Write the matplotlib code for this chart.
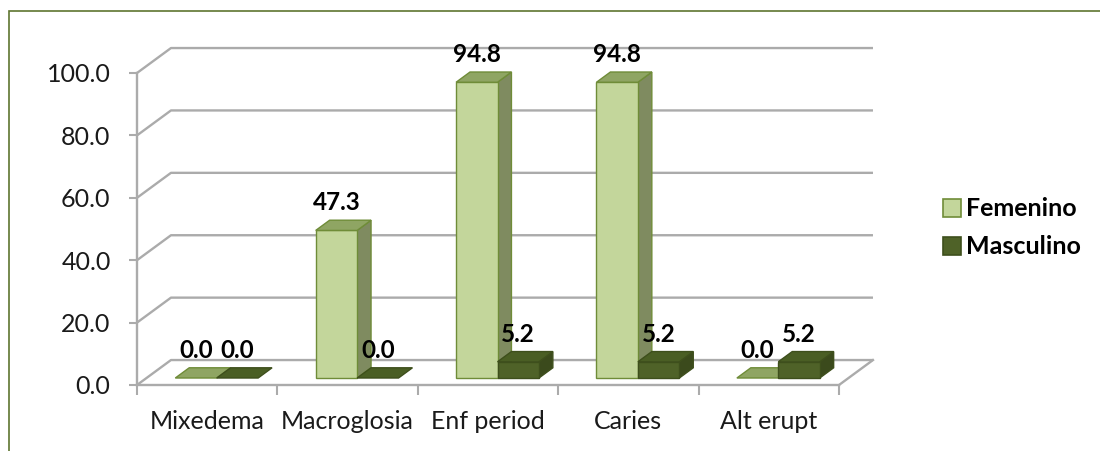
import matplotlib
matplotlib.use("Agg")
import matplotlib.pyplot as plt
from matplotlib.patches import Polygon, Rectangle
from matplotlib.lines import Line2D

# ---- data ----
categories = ["Mixedema", "Macroglosia", "Enf period", "Caries", "Alt erupt"]
series_names = ["Femenino", "Masculino"]
femenino = [0.0, 47.3, 94.8, 94.8, 0.0]
masculino = [0.0, 0.0, 5.2, 5.2, 5.2]
y_ticks = [0, 20, 40, 60, 80, 100]

# ---- style ----
FONT = "Lato"
GRID = "#ABABAB"
front_col = ["#C3D69B", "#4F6228"]
side_col = ["#7F8B60", "#3B4A1C"]
top_col = ["#8FA563", "#4A5E24"]
edge_col = ["#6F8C38", "#3E4F1C"]

W, H = 1100, 451
fig = plt.figure(figsize=(W / 100, H / 100), dpi=100)
fig.patch.set_facecolor("white")

# outer chart frame
fig.add_artist(Rectangle((9 / W, -0.1), 1.2, (H - 11) / H + 0.1,
                         transform=fig.transFigure, fill=False,
                         edgecolor="#5F7530", linewidth=1.2))

ax = fig.add_axes([137 / W, (H - 385) / H, (839 - 137) / W, (385 - 73) / H])
n = len(categories)
ax.set_xlim(0, n)
ax.set_ylim(0, 100)
ax.set_facecolor("none")

# depth of the 3-D box (x in category units, y in value units)
DX, DY = 0.242, 8.0


def proj(x, v, d):
    return (x + d * DX, v + d * DY)


# walls: side wall diagonals and back-wall gridlines
for t in y_ticks:
    pts = [proj(0, t, 0), proj(0, t, 1), proj(n, t, 1)]
    ax.add_line(Line2D([p[0] for p in pts], [p[1] for p in pts], color=GRID,
                       lw=1.7, clip_on=False, zorder=1, solid_capstyle="butt"))
# floor right edge
pts = [proj(n, 0, 0), proj(n, 0, 1)]
ax.add_line(Line2D([p[0] for p in pts], [p[1] for p in pts], color=GRID,
                   lw=1.7, clip_on=False, zorder=1))

# axes spines and ticks
for s in ("top", "right"):
    ax.spines[s].set_visible(False)
for s in ("left", "bottom"):
    ax.spines[s].set_color(GRID)
    ax.spines[s].set_linewidth(1.7)
    ax.spines[s].set_zorder(2)

ax.set_yticks(y_ticks)
ax.set_yticklabels([f"{t:.1f}" for t in y_ticks], fontname=FONT, fontsize=18,
                   color="#1a1a1a")
ax.tick_params(axis="y", length=6, width=1.5, color=GRID, pad=13)

ax.set_xticks([i + 0.5 for i in range(n)])
ax.set_xticklabels(categories, fontname=FONT, fontsize=18, color="#1a1a1a")
ax.set_xticks(range(n + 1), minor=True)
ax.tick_params(axis="x", which="major", length=0, pad=18)
ax.tick_params(axis="x", which="minor", length=7, width=1.5, color=GRID)

# bars
bw = 0.295
d0, d1 = 0.28, 0.69
values = [femenino, masculino]
for i in range(n):
    for s in range(2):
        v = values[s][i]
        x0 = i + 0.205 + s * bw
        x1 = x0 + bw
        z = 3 + i * 4 + s * 2
        if v > 0:
            ax.bar(x0 + d0 * DX, v, width=bw, bottom=d0 * DY, align="edge",
                   color=front_col[s], edgecolor=edge_col[s], linewidth=1.0,
                   zorder=z + 1, clip_on=False)
            side = [proj(x1, 0, d0), proj(x1, v, d0), proj(x1, v, d1), proj(x1, 0, d1)]
            ax.add_patch(Polygon(side, closed=True, facecolor=side_col[s],
                                 edgecolor=edge_col[s], linewidth=1.0,
                                 zorder=z, clip_on=False))
        top = [proj(x0, v, d0), proj(x1, v, d0), proj(x1, v, d1), proj(x0, v, d1)]
        ax.add_patch(Polygon(top, closed=True, facecolor=top_col[s],
                             edgecolor=edge_col[s], linewidth=1.0,
                             zorder=z + 1, clip_on=False))
        cx = (x0 + x1) / 2 + d0 * DX
        ax.annotate(f"{v:.1f}", xy=(cx, v + d1 * DY), xytext=(0, 12.5),
                    textcoords="offset points", ha="center", va="center",
                    fontname=FONT, fontweight="bold", fontsize=17.5,
                    color="black", zorder=50, annotation_clip=False)

# legend
handles = [Rectangle((0, 0), 1, 1, facecolor=front_col[s],
                     edgecolor=edge_col[s], linewidth=1.2) for s in range(2)]
leg = fig.legend(handles, series_names, loc="center left",
                 bbox_to_anchor=(943 / W, 1 - 228 / H), frameon=False,
                 handlelength=0.72, handleheight=0.72, handletextpad=0.2,
                 labelspacing=0.6, borderpad=0, borderaxespad=0,
                 prop={"family": FONT, "weight": "bold", "size": 18})

fig.savefig("out.png", dpi=100, facecolor="white")
